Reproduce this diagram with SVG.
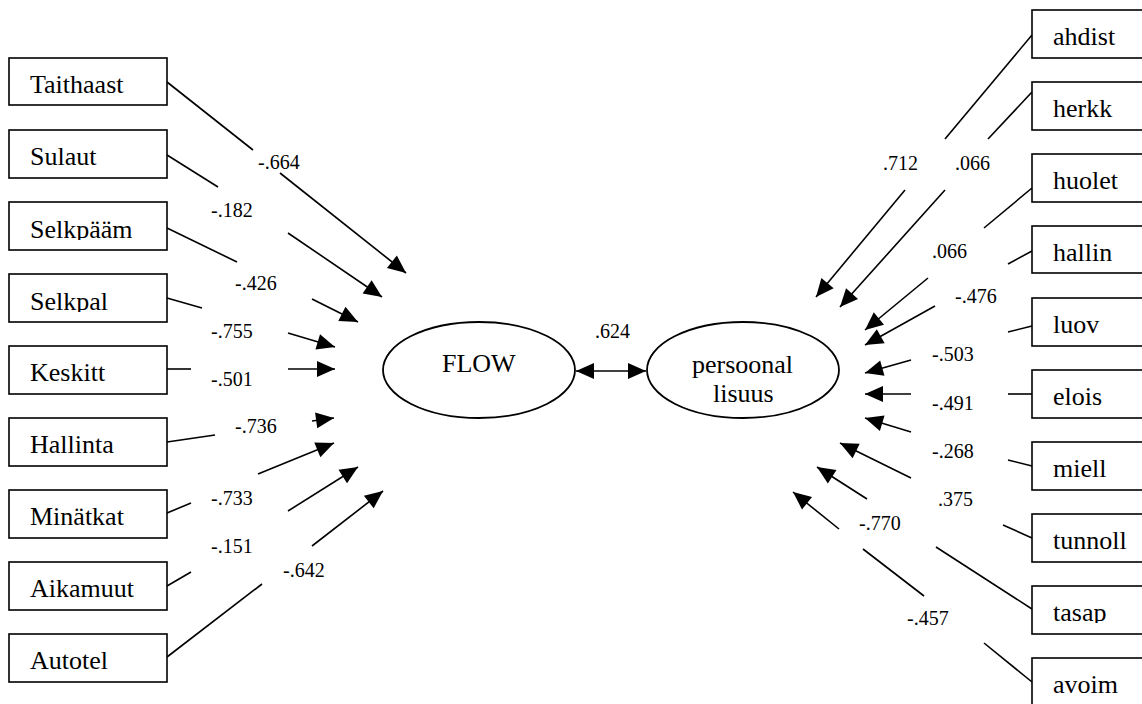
<svg xmlns="http://www.w3.org/2000/svg" width="1142" height="704" viewBox="0 0 1142 704">
<style>
.box{fill:#fff;stroke:#000;stroke-width:1.6}
.ell{fill:#fff;stroke:#000;stroke-width:1.8}
text{font-family:'Liberation Serif','DejaVu Serif','Times New Roman',serif;fill:#000}
.bt{font-size:26px}
.et{font-size:26px}
.lb{font-size:20px}
.ln{stroke:#000;stroke-width:1.6;fill:none}
.ar{stroke:#000;stroke-width:1.6;fill:none;marker-end:url(#ah)}
</style>
<defs>
<marker id="ah" markerUnits="userSpaceOnUse" markerWidth="19" markerHeight="16" refX="18" refY="8" orient="auto" overflow="visible">
<path d="M0,0 L18,8 L0,16 z" fill="#000"/>
</marker>
<marker id="ahs" markerUnits="userSpaceOnUse" markerWidth="19" markerHeight="16" refX="0" refY="8" orient="auto" overflow="visible">
<path d="M18,0 L0,8 L18,16 z" fill="#000"/>
</marker>
<clipPath id="c1"><rect x="9" y="202" width="158" height="38"/></clipPath>
<clipPath id="c2"><rect x="9" y="274" width="158" height="38"/></clipPath>
<clipPath id="c3"><rect x="1032" y="586" width="158" height="37"/></clipPath>
</defs>
<rect width="1142" height="704" fill="#fff"/>

<g id="connectors">
<line class="ln" x1="167" y1="82" x2="253" y2="150"/><line class="ar" x1="280" y1="173" x2="406" y2="273"/>
<line class="ln" x1="167" y1="155" x2="218" y2="187"/><line class="ar" x1="288" y1="233" x2="382" y2="297"/>
<line class="ln" x1="167" y1="228" x2="237" y2="262"/><line class="ar" x1="312" y1="299" x2="358" y2="322"/>
<line class="ln" x1="167" y1="298" x2="202" y2="308"/><line class="ar" x1="288" y1="333" x2="335" y2="347"/>
<line class="ln" x1="167" y1="369" x2="191" y2="369"/><line class="ar" x1="288" y1="369" x2="335" y2="369"/>
<line class="ln" x1="167" y1="442" x2="215" y2="435"/><line class="ar" x1="312" y1="421" x2="334" y2="418"/>
<line class="ln" x1="167" y1="513" x2="191" y2="503"/><line class="ar" x1="258" y1="474" x2="334" y2="443"/>
<line class="ln" x1="167" y1="586" x2="191" y2="572"/><line class="ar" x1="288" y1="511" x2="358" y2="467"/>
<line class="ln" x1="167" y1="657" x2="262" y2="584"/><line class="ar" x1="312" y1="546" x2="383" y2="491"/>

<line class="ln" x1="1032" y1="35" x2="945" y2="139"/><line class="ar" x1="905" y1="190" x2="816" y2="297"/>
<line class="ln" x1="1032" y1="92" x2="988" y2="139"/><line class="ar" x1="945" y1="190" x2="840" y2="307"/>
<line class="ln" x1="1032" y1="188" x2="984" y2="228"/><line class="ar" x1="928" y1="278" x2="865" y2="330"/>
<line class="ln" x1="1032" y1="251" x2="1008" y2="264"/><line class="ar" x1="935" y1="306" x2="865" y2="345"/>
<line class="ln" x1="1032" y1="326" x2="1008" y2="332"/><line class="ar" x1="911" y1="360" x2="865" y2="373"/>
<line class="ln" x1="1032" y1="394" x2="1008" y2="394"/><line class="ar" x1="911" y1="394" x2="865" y2="394"/>
<line class="ln" x1="1032" y1="466" x2="1008" y2="460"/><line class="ar" x1="911" y1="432" x2="865" y2="418"/>
<line class="ln" x1="1032" y1="538" x2="1003" y2="525"/><line class="ar" x1="911" y1="478" x2="840" y2="443"/>
<line class="ln" x1="1032" y1="609" x2="936" y2="547"/><line class="ar" x1="867" y1="499" x2="817" y2="467"/>
<line class="ln" x1="1032" y1="682" x2="984" y2="643"/><line class="ln" x1="924" y1="596" x2="863" y2="549"/><line class="ar" x1="839" y1="529" x2="793" y2="492"/>

<line class="ln" x1="576" y1="371" x2="646" y2="371" marker-start="url(#ahs)" marker-end="url(#ah)"/>

<text class="lb" x="258" y="169">-.664</text>
<text class="lb" x="211" y="217">-.182</text>
<text class="lb" x="235" y="290">-.426</text>
<text class="lb" x="211" y="338">-.755</text>
<text class="lb" x="211" y="386">-.501</text>
<text class="lb" x="235" y="433">-.736</text>
<text class="lb" x="211" y="505">-.733</text>
<text class="lb" x="211" y="553">-.151</text>
<text class="lb" x="283" y="577">-.642</text>
<text class="lb" x="595" y="338">.624</text>
<text class="lb" x="883" y="170">.712</text>
<text class="lb" x="955" y="170">.066</text>
<text class="lb" x="932" y="258">.066</text>
<text class="lb" x="955" y="303">-.476</text>
<text class="lb" x="932" y="361">-.503</text>
<text class="lb" x="932" y="410">-.491</text>
<text class="lb" x="932" y="458">-.268</text>
<text class="lb" x="938" y="506">.375</text>
<text class="lb" x="859" y="530">-.770</text>
<text class="lb" x="907" y="625">-.457</text>
</g>

<g id="FLOW"><ellipse class="ell" cx="479" cy="370" rx="96" ry="48"/><text class="et" x="442" y="372">FLOW</text></g>
<g id="persoonal"><ellipse class="ell" cx="743" cy="370" rx="96" ry="48"/><text class="et" x="692" y="373">persoonal</text><text class="et" x="713" y="402">lisuus</text></g>

<g id="Taithaast"><rect class="box" x="9" y="58" width="158" height="47"/><text class="bt" x="30" y="93">Taithaast</text></g>
<g id="Sulaut"><rect class="box" x="9" y="130" width="158" height="48"/><text class="bt" x="30" y="165">Sulaut</text></g>
<g id="Selkpaam"><rect class="box" x="9" y="202" width="158" height="48"/><text class="bt" x="30" y="238" clip-path="url(#c1)">Selkpääm</text></g>
<g id="Selkpal"><rect class="box" x="9" y="274" width="158" height="48"/><text class="bt" x="30" y="310" clip-path="url(#c2)">Selkpal</text></g>
<g id="Keskitt"><rect class="box" x="9" y="346" width="158" height="48"/><text class="bt" x="30" y="381">Keskitt</text></g>
<g id="Hallinta"><rect class="box" x="9" y="418" width="158" height="48"/><text class="bt" x="30" y="453">Hallinta</text></g>
<g id="Minatkat"><rect class="box" x="9" y="490" width="158" height="48"/><text class="bt" x="30" y="525">Minätkat</text></g>
<g id="Aikamuut"><rect class="box" x="9" y="562" width="158" height="48"/><text class="bt" x="30" y="597">Aikamuut</text></g>
<g id="Autotel"><rect class="box" x="9" y="634" width="158" height="48"/><text class="bt" x="30" y="669">Autotel</text></g>

<g id="ahdist"><rect class="box" x="1032" y="10" width="160" height="48"/><text class="bt" x="1053" y="45">ahdist</text></g>
<g id="herkk"><rect class="box" x="1032" y="82" width="160" height="48"/><text class="bt" x="1053" y="117">herkk</text></g>
<g id="huolet"><rect class="box" x="1032" y="154" width="160" height="48"/><text class="bt" x="1053" y="189">huolet</text></g>
<g id="hallin"><rect class="box" x="1032" y="226" width="160" height="47"/><text class="bt" x="1053" y="261">hallin</text></g>
<g id="luov"><rect class="box" x="1032" y="298" width="160" height="48"/><text class="bt" x="1053" y="333">luov</text></g>
<g id="elois"><rect class="box" x="1032" y="370" width="160" height="48"/><text class="bt" x="1053" y="405">elois</text></g>
<g id="miell"><rect class="box" x="1032" y="442" width="160" height="48"/><text class="bt" x="1053" y="477">miell</text></g>
<g id="tunnoll"><rect class="box" x="1032" y="514" width="160" height="48"/><text class="bt" x="1053" y="549">tunnoll</text></g>
<g id="tasap"><rect class="box" x="1032" y="586" width="160" height="48"/><text class="bt" x="1053" y="621" clip-path="url(#c3)">tasap</text></g>
<g id="avoim"><rect class="box" x="1032" y="658" width="160" height="60"/><text class="bt" x="1053" y="693">avoim</text></g>
</svg>
